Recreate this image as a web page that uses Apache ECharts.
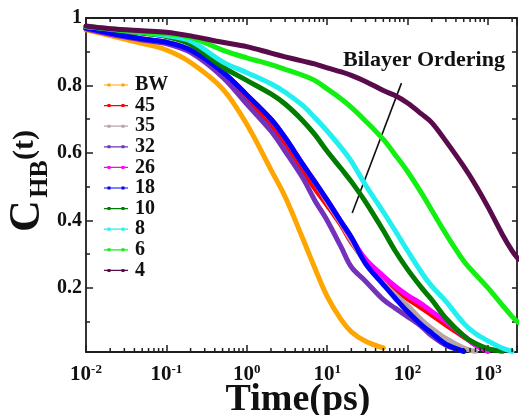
<!DOCTYPE html>
<html>
<head>
<meta charset="utf-8">
<script src="https://cdn.jsdelivr.net/npm/echarts@6/dist/echarts.min.js"></script>
<style>
  html, body { margin: 0; padding: 0; background: #fff; }
  #chart { width: 519px; height: 415px; }
</style>
</head>
<body>
<div id="chart"></div>
<script>
// Hydrogen-bond correlation C_HB(t) for bulk water and several hydration levels
const T = [0.01, 0.02, 0.05, 0.1, 0.2, 0.5, 1, 2, 3, 5, 7, 10, 15, 20, 30, 50, 70, 100, 150, 200, 300, 500, 700, 1000, 1500, 2000, 2400];

const cBW = [0.965, 0.948, 0.925, 0.905, 0.868, 0.79, 0.685, 0.55, 0.47, 0.345, 0.26, 0.175, 0.105, 0.07, 0.042, 0.022, null, null, null, null, null, null, null, null, null, null, null];
const c45 = [0.969, 0.954, 0.937, 0.926, 0.902, 0.835, 0.76, 0.685, 0.63, 0.55, 0.495, 0.445, 0.385, 0.335, 0.28, 0.225, 0.195, 0.168, 0.14, 0.12, 0.09, 0.055, 0.033, 0.015, null, null, null];
const c35 = [0.970, 0.955, 0.938, 0.928, 0.905, 0.84, 0.772, 0.70, 0.645, 0.565, 0.515, 0.455, 0.39, 0.34, 0.275, 0.215, 0.18, 0.148, 0.105, 0.08, 0.05, 0.022, 0.012, null, null, null, null];
const c32 = [0.968, 0.952, 0.935, 0.924, 0.898, 0.825, 0.745, 0.665, 0.605, 0.525, 0.46, 0.40, 0.32, 0.262, 0.22, 0.165, 0.14, 0.115, 0.085, 0.058, 0.03, 0.012, null, null, null, null, null];
const c26 = [0.970, 0.955, 0.938, 0.928, 0.905, 0.84, 0.772, 0.70, 0.645, 0.565, 0.515, 0.46, 0.395, 0.348, 0.285, 0.235, 0.205, 0.178, 0.152, 0.13, 0.10, 0.058, 0.03, 0.012, null, null, null];
const c18 = [0.970, 0.955, 0.938, 0.928, 0.905, 0.84, 0.772, 0.70, 0.645, 0.565, 0.515, 0.46, 0.395, 0.35, 0.272, 0.21, 0.17, 0.13, 0.09, 0.066, 0.033, 0.012, null, null, null, null, null];
const c10 = [0.975, 0.966, 0.955, 0.945, 0.922, 0.855, 0.815, 0.775, 0.745, 0.695, 0.655, 0.605, 0.553, 0.515, 0.455, 0.37, 0.31, 0.255, 0.20, 0.165, 0.11, 0.058, 0.035, 0.02, 0.012, null, null];
const c8  = [0.975, 0.967, 0.957, 0.948, 0.932, 0.87, 0.838, 0.805, 0.78, 0.74, 0.705, 0.665, 0.615, 0.575, 0.505, 0.425, 0.37, 0.31, 0.245, 0.205, 0.16, 0.095, 0.065, 0.043, 0.022, 0.012, null];
const c6  = [0.975, 0.968, 0.958, 0.953, 0.943, 0.905, 0.882, 0.862, 0.848, 0.83, 0.815, 0.79, 0.76, 0.735, 0.695, 0.64, 0.595, 0.545, 0.48, 0.43, 0.36, 0.28, 0.24, 0.20, 0.15, 0.115, 0.097];
const c4  = [0.976, 0.968, 0.962, 0.958, 0.947, 0.928, 0.915, 0.896, 0.885, 0.872, 0.864, 0.852, 0.84, 0.83, 0.812, 0.785, 0.77, 0.748, 0.715, 0.69, 0.635, 0.56, 0.505, 0.44, 0.36, 0.31, 0.285];

const NAMES  = ['BW', '45', '35', '32', '26', '18', '10', '8', '6', '4'];
const VALUES = [cBW, c45, c35, c32, c26, c18, c10, c8, c6, c4];
const COLORS = ['#FFA500', '#FF0000', '#B8A5A5', '#7432BC', '#FF00FF', '#0000FF', '#007C00', '#22F0F0', '#12F012', '#5A0B4B'];

// axis ranges and tick labels
const X_MIN = 0.01, X_MAX = 2300;
const Y_MIN = 0.01, Y_MAX = 1;
const X_TICK_EXPONENTS = [-2, -1, 0, 1, 2, 3];
const Y_TICK_LABELS = ['0.2', '0.4', '0.6', '0.8', '1'];

// minor tick positions (2..9 within every decade) for the log axes
const MINOR_X = [];
X_TICK_EXPONENTS.forEach(function (e) {
  for (let k = 2; k <= 9; k++) {
    const v = k * Math.pow(10, e);
    if (v < X_MAX) MINOR_X.push(+v.toPrecision(3));
  }
});

const SERIF = 'Liberation Serif, Times New Roman, serif';
const AXIS_COLOR = '#1e1e1e';

function xLabel(v) {
  const e = Math.round(Math.log10(v));
  if (Math.abs(Math.log10(v) - e) > 1e-6 || X_TICK_EXPONENTS.indexOf(e) < 0) return '';
  return '{b|10}{s|' + e + '}';
}
function yLabel(v) {
  const s = (Math.round(v * 10) / 10);
  const txt = s === 1 ? '1' : s.toFixed(1);
  if (Math.abs(v - s) > 1e-6) return '';
  return Y_TICK_LABELS.indexOf(txt) >= 0 ? txt : '';
}

const lineSeries = NAMES.map(function (name, i) {
  const s = {
    name: name,
    type: 'line',
    data: T.map(function (t, j) { return [t, VALUES[i][j]]; }),
    color: COLORS[i],
    showSymbol: false,
    symbol: 'none',
    smooth: 0.35,
    connectNulls: false,
    lineStyle: { width: 5, color: COLORS[i], cap: 'round', join: 'round' },
    z: 2 + i,
    silent: true
  };
  if (name === '4') {
    // arrow pointing towards stronger bilayer ordering
    s.markLine = {
      silent: true,
      animation: false,
      symbol: ['none', 'arrow'],
      symbolSize: [0, 9],
      label: { show: false },
      lineStyle: { color: '#111', width: 1.6, type: 'solid' },
      data: [[{ coord: [20.5, 0.422] }, { coord: [84, 0.807] }]]
    };
  }
  return s;
});

const minorTickSeries = {
  type: 'custom',
  name: 'minorTicks',
  silent: true,
  clip: false,
  z: 20,
  data: MINOR_X.map(function (v) { return [v, Y_MIN]; }),
  renderItem: function (params, api) {
    const v = api.value(0);
    const b = api.coord([v, Y_MIN]);
    const t = api.coord([v, Y_MAX]);
    return {
      type: 'group',
      children: [
        { type: 'line', shape: { x1: b[0], y1: b[1], x2: b[0], y2: b[1] - 4 }, style: { stroke: AXIS_COLOR, lineWidth: 1.5 } },
        { type: 'line', shape: { x1: t[0], y1: t[1], x2: t[0], y2: t[1] + 4 }, style: { stroke: AXIS_COLOR, lineWidth: 1.5 } }
      ]
    };
  }
};

const chart = echarts.init(document.getElementById('chart'), null, { renderer: 'canvas' });

chart.setOption({
  animation: false,
  backgroundColor: '#ffffff',
  grid: { left: 86, right: 2, top: 18, bottom: 63, containLabel: false, outerBoundsMode: 'none' },
  xAxis: [
    {
      type: 'log', logBase: 10, min: X_MIN, max: X_MAX, position: 'bottom',
      axisLine: { show: true, onZero: false, lineStyle: { color: AXIS_COLOR, width: 1.8 } },
      axisTick: { show: true, inside: true, length: 7, lineStyle: { color: AXIS_COLOR, width: 1.5 } },
      splitLine: { show: false },
      axisLabel: {
        margin: 11, formatter: xLabel, color: '#111',
        rich: {
          b: { fontSize: 21, fontWeight: 'bold', fontFamily: SERIF, color: '#111', lineHeight: 24 },
          s: { fontSize: 13, fontWeight: 'bold', fontFamily: SERIF, color: '#111', verticalAlign: 'top', lineHeight: 14 }
        }
      }
    },
    {
      type: 'log', logBase: 10, min: X_MIN, max: X_MAX, position: 'top',
      axisLine: { show: true, onZero: false, lineStyle: { color: AXIS_COLOR, width: 1.8 } },
      axisTick: { show: true, inside: true, length: 7, lineStyle: { color: AXIS_COLOR, width: 1.5 } },
      axisLabel: { show: false },
      splitLine: { show: false }
    }
  ],
  yAxis: [
    {
      type: 'value', min: Y_MIN, max: Y_MAX, splitNumber: 5, position: 'left',
      axisLine: { show: true, onZero: false, lineStyle: { color: AXIS_COLOR, width: 1.8 } },
      axisTick: { show: true, inside: true, length: 7, lineStyle: { color: AXIS_COLOR, width: 1.5 } },
      minorTick: { show: true, splitNumber: 2, length: 4, lineStyle: { color: AXIS_COLOR, width: 1.5 } },
      splitLine: { show: false },
      minorSplitLine: { show: false },
      axisLabel: {
        margin: 4, formatter: yLabel, fontSize: 20, fontWeight: 'bold', fontFamily: SERIF, color: '#111'
      }
    },
    {
      type: 'value', min: Y_MIN, max: Y_MAX, splitNumber: 10, position: 'right',
      axisLine: { show: true, onZero: false, lineStyle: { color: AXIS_COLOR, width: 1.8 } },
      axisTick: { show: true, inside: true, length: 5, lineStyle: { color: AXIS_COLOR, width: 1.5 } },
      axisLabel: { show: false },
      splitLine: { show: false }
    }
  ],
  legend: {
    data: NAMES,
    orient: 'vertical',
    left: 104,
    top: 75,
    padding: 0,
    itemGap: 0.6,
    itemWidth: 24,
    itemHeight: 6,
    icon: 'path://M0,2.4H24V3.6H0Z M3.5,1.5H6.5V4.5H3.5Z M17.5,1.5H20.5V4.5H17.5Z',
    itemStyle: { borderWidth: 0 },
    selectedMode: false,
    textStyle: { fontSize: 20, fontWeight: 'bold', fontFamily: SERIF, color: '#111', lineHeight: 20, padding: [0, 0, 0, 2] }
  },
  graphic: [
    { type: 'text', x: 424, y: 60, style: { text: 'Bilayer Ordering', font: 'bold 22px ' + SERIF, fill: '#111', align: 'center', verticalAlign: 'middle' } },
    { type: 'text', x: 298, y: 400, style: { text: 'Time(ps)', font: 'bold 38px ' + SERIF, fill: '#111', align: 'center', verticalAlign: 'middle' } },
    { type: 'text', x: 28, y: 216, rotation: Math.PI / 2, style: { text: 'C', font: 'bold 44px ' + SERIF, fill: '#111', align: 'center', verticalAlign: 'middle' } },
    { type: 'text', x: 40, y: 179, rotation: Math.PI / 2, style: { text: 'HB', font: 'bold 26px ' + SERIF, fill: '#111', align: 'center', verticalAlign: 'middle' } },
    { type: 'text', x: 25, y: 145, rotation: Math.PI / 2, style: { text: '(t)', font: 'bold 30px ' + SERIF, fill: '#111', align: 'center', verticalAlign: 'middle' } }
  ],
  series: lineSeries.concat([minorTickSeries])
});
</script>
</body>
</html>
